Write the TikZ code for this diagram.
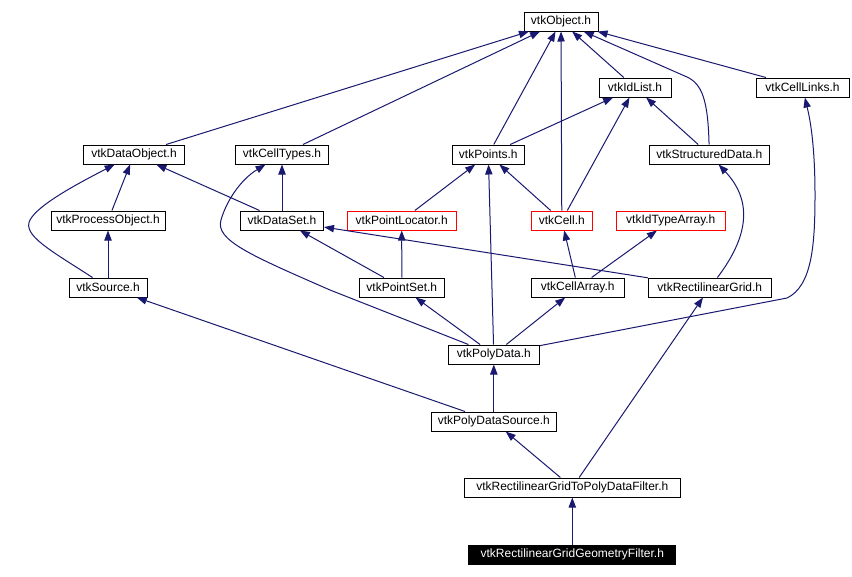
\documentclass[tikz,border=0pt]{standalone}
\usepackage{fontspec}
\setmainfont{Liberation Sans}
\usetikzlibrary{arrows.meta}
\definecolor{incblue}{HTML}{191970}

\begin{document}
\begin{tikzpicture}[x=0.75pt, y=-0.75pt,
  hfile/.style={draw=black, line width=0.75pt, minimum width=#1*0.75pt,
    minimum height=19*0.75pt, inner sep=0pt, font=\fontsize{9}{10}\selectfont},
  hmissing/.style={hfile=#1, draw=red},
  hroot/.style={hfile=#1, fill=black, text=white},
  inc/.style={draw=incblue, line width=0.75pt, -{Triangle[length=7.5pt,width=5.5pt]}}]
  \path[fill=white] (0,0) rectangle (852,576);

  % Headers
  \node[hfile=74]  (object)         at (561,21.5)   {vtkObject.h};
  \node[hfile=72]  (idlist)         at (635,87.5)   {vtkIdList.h};
  \node[hfile=93]  (celllinks)      at (802.5,87.5) {vtkCellLinks.h};
  \node[hfile=101] (dataobject)     at (134,154.5)  {vtkDataObject.h};
  \node[hfile=93]  (celltypes)      at (282,154.5)  {vtkCellTypes.h};
  \node[hfile=72]  (points)         at (488.3,154.5) {vtkPoints.h};
  \node[hfile=120] (structureddata) at (709.3,154.5) {vtkStructuredData.h};
  \node[hfile=114] (processobject)  at (108,220.5)  {vtkProcessObject.h};
  \node[hfile=83]  (dataset)        at (282,220.5)  {vtkDataSet.h};
  \node[hmissing=109] (pointlocator) at (401.7,220.5) {vtkPointLocator.h};
  \node[hmissing=61]  (cell)         at (561.8,220.5) {vtkCell.h};
  \node[hmissing=109] (idtypearray)  at (670.8,220.5) {vtkIdTypeArray.h};
  \node[hfile=78]  (source)         at (108,287.5)  {vtkSource.h};
  \node[hfile=85]  (pointset)       at (401.8,287.5) {vtkPointSet.h};
  \node[hfile=93]  (cellarray)      at (577.7,287.5) {vtkCellArray.h};
  \node[hfile=123] (rectgrid)       at (709.8,287.5) {vtkRectilinearGrid.h};
  \node[hfile=91]  (polydata)       at (493.8,354.5) {vtkPolyData.h};
  \node[hfile=125] (polydatasource) at (493.8,421.5) {vtkPolyDataSource.h};
  \node[hfile=216] (rgtopdfilter)   at (572.3,487.5) {vtkRectilinearGridToPolyDataFilter.h};
  \node[hroot=207] (rggeomfilter)   at (572.3,554.5) {vtkRectilinearGridGeometryFilter.h};

  % Straight includes
  \foreach \a/\b in {dataobject/object, celltypes/object, points/object, cell/object,
      idlist/object, celllinks/object, points/idlist, cell/idlist, structureddata/idlist,
      processobject/dataobject, dataset/dataobject, dataset/celltypes,
      pointlocator/points, polydata/points, cell/points, source/processobject,
      pointset/dataset, rectgrid/dataset, pointset/pointlocator, cellarray/cell,
      cellarray/idtypearray, polydata/pointset, polydata/cellarray,
      polydatasource/source, polydatasource/polydata, rgtopdfilter/polydatasource,
      rgtopdfilter/rectgrid, rggeomfilter/rgtopdfilter}
    \draw[inc] (\a) -- (\b);

  % Curved includes
  \draw[inc] (source) .. controls (50,250) and (22,235) .. (30,220)
    .. controls (38,205) and (75,185) .. (dataobject);
  \draw[inc] (polydata) -- (330,290) .. controls (250,255) and (215,240) .. (221,220)
    .. controls (226,202) and (240,180) .. (celltypes);
  \draw[inc] (structureddata) .. controls (708,100) and (702,84) .. (687,77) -- (object);
  \draw[inc] (polydata) -- (787,298) .. controls (812,286) and (815,245) .. (815,195)
    .. controls (815,140) and (809,115) .. (celllinks);
  \draw[inc] (rectgrid) .. controls (752,232) and (750,198) .. (structureddata);
\end{tikzpicture}
\end{document}
